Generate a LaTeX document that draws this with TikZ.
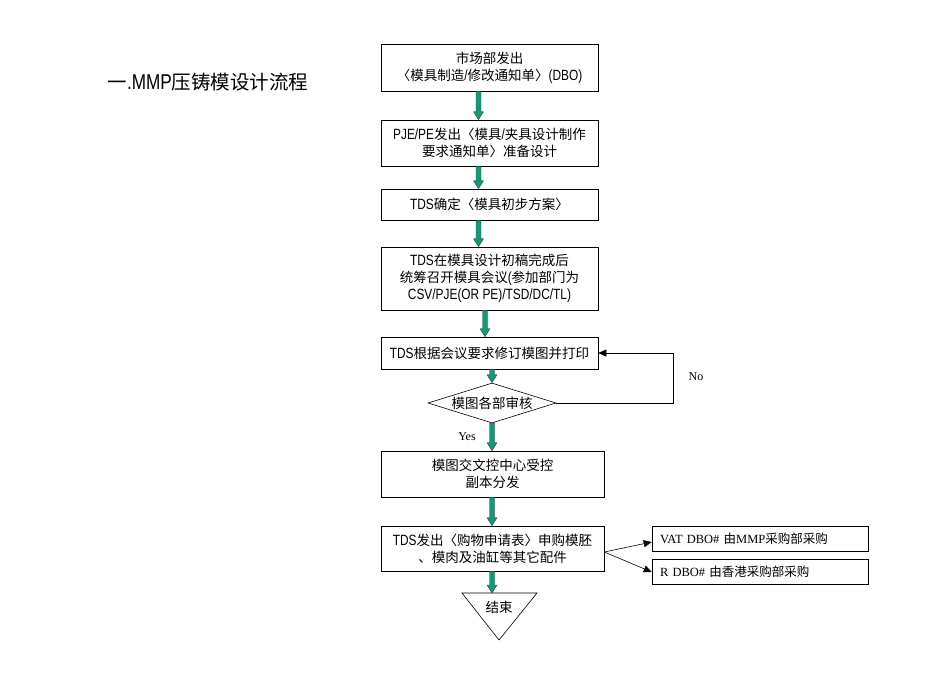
\documentclass[tikz,border=0pt]{standalone}
\usepackage{fontspec}
\newfontfamily\cjk{Noto Sans CJK SC}
\newfontfamily\nar[FakeStretch=0.8,Scale=1.1]{Liberation Sans}
\newfontfamily\tms{Liberation Serif}
\usetikzlibrary{calc,shapes.geometric,arrows.meta}
\definecolor{agreen}{HTML}{119A78}
\newcommand\garrow[2]{%
  \path[draw=black!75, fill=agreen, line width=0.4pt] let \p1=#1, \p2=#2 in
   (\x1-2.5pt,\y1) -- (\x1-2.5pt,\y2+8pt) -- (\x1-5pt,\y2+8pt) -- (\x1,\y2)
   -- (\x1+5pt,\y2+8pt) -- (\x1+2.5pt,\y2+8pt) -- (\x1+2.5pt,\y1) -- cycle;}
\tikzset{
  box/.style={draw, line width=0.6pt, inner sep=0pt, align=center,
    font=\fontsize{13.5}{17}\cjk},
  sidebox/.style={draw, line width=0.6pt, inner sep=0pt, align=left,
    text width=200pt, minimum width=216pt, minimum height=25pt,
    font=\fontsize{12.5}{15}\cjk},
  thin arrow/.style={line width=0.6pt, -{Triangle[length=8pt,width=7pt]}},
}
\begin{document}
\begin{tikzpicture}[x=1pt,y=-1pt]
\useasboundingbox (0,0) rectangle (950,673);
\node[font=\fontsize{19.5}{22}\cjk, anchor=west] (title) at (104,82)
  {一{\nar .MMP}压铸模设计流程};
\node[box, minimum width=217pt, minimum height=47pt] (b1) at (489.5,67.5)
  {市场部发出\\〈模具制造{\nar /}修改通知单〉{\nar (DBO)}};
\node[box, minimum width=217pt, minimum height=46pt] (b2) at (489.5,143)
  {{\nar PJE/PE}发出〈模具{\nar /}夹具设计制作\\要求通知单〉准备设计};
\node[box, minimum width=217pt, minimum height=31pt] (b3) at (489.5,204.5)
  {{\nar TDS}确定〈模具初步方案〉};
\node[box, minimum width=217pt, minimum height=63pt] (b4) at (489.5,278.5)
  {{\nar TDS}在模具设计初稿完成后\\统筹召开模具会议{\nar (}参加部门为\\{\nar CSV/PJE(OR PE)/TSD/DC/TL)}};
\node[box, minimum width=217pt, minimum height=32pt] (b5) at (489.5,353)
  {{\nar TDS}根据会议要求修订模图并打印};
\node[draw, diamond, line width=0.6pt, inner sep=0pt, aspect=3.2,
  minimum width=128pt, minimum height=40pt, font=\fontsize{13.5}{15}\cjk]
  (d) at (492,403) {模图各部审核};
\node[box, minimum width=223pt, minimum height=46pt] (b6) at (492.5,474)
  {模图交文控中心受控\\副本分发};
\node[box, minimum width=223pt, minimum height=45pt] (b7) at (492.5,548.5)
  {{\nar TDS}发出〈购物申请表〉申购模胚\\、模肉及油缸等其它配件};
\node[sidebox] (vat) at (760,538.5) {{\tms VAT DBO\#} 由{\tms MMP}采购部采购};
\node[sidebox] (r) at (760,572) {{\tms R DBO\#} 由香港采购部采购};
% end triangle
\coordinate (tl) at (462,593);
\coordinate (tr) at (537,593);
\coordinate (tb) at (499,640);
\draw[line width=0.6pt] (tl) -- (tr) -- (tb) -- cycle;
\coordinate (tt) at (499,593);
\node[font=\fontsize{13.5}{15}\cjk] (end) at (499,607) {结束};
% labels
\node[font=\fontsize{12}{14}\tms] (no) at (696,377) {No};
\node[font=\fontsize{12}{14}\tms] (yes) at (467,437) {Yes};
% green arrows
\garrow{([xshift=-11pt]b1.south)}{([xshift=-11pt]b2.north)}
\garrow{([xshift=-11pt]b2.south)}{([xshift=-11pt]b3.north)}
\garrow{([xshift=-11pt]b3.south)}{([xshift=-11pt]b4.north)}
\garrow{([xshift=-4.5pt]b4.south)}{([xshift=-4.5pt]b5.north)}
\garrow{([xshift=2.5pt]b5.south)}{(d.north)}
\garrow{(d.south)}{(b6.north)}
\garrow{([xshift=-0.5pt]b6.south)}{([xshift=-0.5pt]b7.north)}
\garrow{([xshift=-0.5pt]b7.south)}{(tt)}
% loop and side arrows
\draw[thin arrow] (d.east) -- ++(117,0) |- (b5.east);
\draw[thin arrow] ([yshift=-3.5pt]b7.east) -- ([yshift=-3.5pt]vat.west);
\draw[thin arrow] ([yshift=-3.5pt]b7.east) -- (r.west);
\end{tikzpicture}
\end{document}
